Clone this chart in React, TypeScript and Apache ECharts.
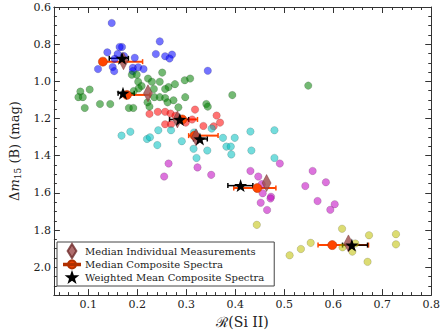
import React, { useEffect, useRef } from 'react';
import * as echarts from 'echarts';

// R(Si II), Δm15(B) pairs per subgroup
const bluePts: number[][] = [
  [0.148, 0.686], [0.169, 0.815], [0.164, 0.815], [0.139, 0.844], [0.160, 0.853],
  [0.246, 0.785], [0.238, 0.853], [0.257, 0.865], [0.271, 0.856], [0.266, 0.877],
  [0.195, 0.873], [0.120, 0.934], [0.150, 0.923], [0.153, 0.945], [0.191, 0.927],
  [0.202, 0.924], [0.213, 0.934], [0.191, 0.945], [0.344, 0.943], [0.154, 0.879],
  [0.173, 0.864],
];
const greenPts: number[][] = [
  [0.084, 1.055], [0.103, 1.044], [0.080, 1.085], [0.089, 1.085], [0.093, 1.143],
  [0.124, 1.122], [0.145, 1.122], [0.183, 1.143], [0.192, 1.143], [0.189, 0.964],
  [0.199, 0.964], [0.251, 0.953], [0.222, 0.985], [0.202, 1.002], [0.209, 1.025],
  [0.230, 1.002], [0.246, 1.002], [0.297, 0.994], [0.308, 0.985], [0.277, 1.015],
  [0.264, 1.031], [0.257, 1.041], [0.234, 1.041], [0.235, 1.085], [0.246, 1.085],
  [0.257, 1.090], [0.262, 1.113], [0.274, 1.102], [0.298, 1.085], [0.341, 1.122],
  [0.344, 1.136], [0.394, 1.074], [0.284, 1.140], [0.221, 1.113], [0.225, 1.136],
  [0.193, 1.052], [0.549, 1.023], [0.203, 1.038],
];
const redPts: number[][] = [
  [0.225, 1.175], [0.242, 1.164], [0.257, 1.164], [0.268, 1.173], [0.318, 1.152],
  [0.362, 1.184], [0.369, 1.222], [0.356, 1.242], [0.335, 1.240], [0.312, 1.205],
  [0.257, 1.231], [0.269, 1.231], [0.278, 1.185], [0.299, 1.222],
];
const cyanPts: number[][] = [
  [0.168, 1.292], [0.186, 1.271], [0.220, 1.310], [0.226, 1.301], [0.241, 1.343],
  [0.243, 1.263], [0.269, 1.263], [0.291, 1.322], [0.315, 1.363], [0.321, 1.412],
  [0.343, 1.372], [0.352, 1.254], [0.375, 1.304], [0.399, 1.304], [0.382, 1.351],
  [0.391, 1.351], [0.392, 1.393], [0.431, 1.270], [0.433, 1.372], [0.480, 1.263],
  [0.480, 1.412], [0.316, 1.275],
];
const magentaPts: number[][] = [
  [0.264, 1.442], [0.255, 1.512], [0.323, 1.463], [0.351, 1.503], [0.431, 1.482],
  [0.447, 1.512], [0.454, 1.553], [0.456, 1.602], [0.473, 1.621], [0.472, 1.630],
  [0.452, 1.653], [0.465, 1.692], [0.491, 1.442], [0.558, 1.482], [0.585, 1.543],
  [0.543, 1.563], [0.568, 1.644], [0.603, 1.661], [0.594, 1.691],
];
const yellowPts: number[][] = [
  [0.444, 1.772], [0.511, 1.936], [0.534, 1.902], [0.554, 1.869], [0.618, 1.793],
  [0.619, 1.893], [0.639, 1.916], [0.645, 1.872], [0.673, 1.828], [0.670, 1.971],
  [0.728, 1.822], [0.728, 1.877],
];

// medians per subgroup (blue, green, red, cyan, magenta, yellow)
const medianIndividualR = [0.172, 0.222, 0.282, 0.320, 0.464, 0.631];
const medianIndividualDm = [0.892, 1.064, 1.205, 1.301, 1.547, 1.872];
const medianCompositeR = [0.130, 0.179, 0.292, 0.317, 0.445, 0.598];
const medianCompositeDm = [0.894, 1.073, 1.205, 1.292, 1.574, 1.881];
const medianCompositeLo = [0.128, 0.168, 0.282, 0.305, 0.397, 0.569];
const medianCompositeHi = [0.211, 0.226, 0.323, 0.365, 0.483, 0.672];
const weightedR = [0.169, 0.171, 0.287, 0.328, 0.411, 0.638];
const weightedDm = [0.876, 1.064, 1.205, 1.310, 1.561, 1.881];
const weightedLo = [0.143, 0.161, 0.266, 0.315, 0.385, 0.619];
const weightedHi = [0.182, 0.194, 0.305, 0.343, 0.436, 0.670];

const xTicks = [0.1, 0.2, 0.3, 0.4, 0.5, 0.6, 0.7, 0.8];
const yTicks = [0.6, 0.8, 1.0, 1.2, 1.4, 1.6, 1.8, 2.0];
const xMin = 0.03, xMax = 0.8, yMin = 0.6, yMax = 2.15;

const LEG_IND = 'Median Individual Measurements';
const LEG_COMP = 'Median Composite Spectra';
const LEG_W = 'Weighted Mean Composite Spectra';

const STAR = 'path://M10,0 L12.35,6.76 L19.51,6.91 L13.8,11.24 L15.88,18.09 L10,14 L4.12,18.09 L6.2,11.24 L0.49,6.91 L7.65,6.76 Z';
const DIAMOND_ICON = 'path://M5,0 L10,8 L5,16 L0,8 Z';
const COMP_ICON = 'path://M0,4.4 L14,4.4 L14,5.6 L0,5.6 Z M3.5,5 A3.5,3.5 0 1,1 10.5,5 A3.5,3.5 0 1,1 3.5,5 Z';
const FONT = 'DejaVu Serif';

function minorValues(lo: number, hi: number, step: number, majors: number[]) {
  const out: number[] = [];
  for (let k = Math.ceil(lo / step - 1e-9); k * step <= hi + 1e-9; k++) {
    const v = +(k * step).toFixed(4);
    if (!majors.some((m) => Math.abs(m - v) < 1e-6)) out.push(v);
  }
  return out;
}

function errSeries(name: string, r: number[], dm: number[], lo: number[], hi: number[], color: string, width: number) {
  return {
    type: 'custom',
    name,
    silent: true,
    data: r.map((x, i) => [x, dm[i], lo[i], hi[i]]),
    encode: { x: [0, 2, 3], y: 1 },
    renderItem: (_p: any, api: any) => {
      const y = api.value(1);
      const a = api.coord([api.value(2), y]);
      const b = api.coord([api.value(3), y]);
      const cap = 2.5;
      return {
        type: 'group',
        children: [
          { type: 'line', shape: { x1: a[0], y1: a[1], x2: b[0], y2: b[1] }, style: { stroke: color, lineWidth: width } },
          { type: 'line', shape: { x1: a[0], y1: a[1] - cap, x2: a[0], y2: a[1] + cap }, style: { stroke: color, lineWidth: 1.5 } },
          { type: 'line', shape: { x1: b[0], y1: b[1] - cap, x2: b[0], y2: b[1] + cap }, style: { stroke: color, lineWidth: 1.5 } },
        ],
      };
    },
  };
}

export default function App() {
  const ref = useRef<HTMLDivElement>(null);
  useEffect(() => {
    if (!ref.current) return;
    const chart = echarts.init(ref.current, null, { renderer: 'svg' });
    const xMinor = minorValues(xMin, xMax, 0.02, xTicks);
    const yMinor = minorValues(yMin, yMax, 0.05, yTicks);
    const axisLine = { show: true, lineStyle: { color: '#333', width: 1 } };
    const xBase = { type: 'value', min: xMin, max: xMax, splitLine: { show: false } };
    const yBase = { type: 'value', min: yMin, max: yMax, inverse: true, splitLine: { show: false } };
    const tickStyle = { color: '#333', width: 1 };
    const groups = [
      { pts: bluePts, color: '#0000ff' },
      { pts: greenPts, color: '#008000' },
      { pts: redPts, color: '#ff0000' },
      { pts: cyanPts, color: '#00bfbf' },
      { pts: magentaPts, color: '#bf00bf' },
      { pts: yellowPts, color: '#bfbf00' },
    ];
    chart.setOption({
      animation: false,
      textStyle: { fontFamily: FONT },
      grid: { left: 40, right: 11, top: 7, bottom: 33 },
      xAxis: [
        {
          ...xBase, position: 'bottom', axisLine,
          axisTick: { inside: true, length: 6, customValues: xTicks, lineStyle: tickStyle },
          axisLabel: { customValues: xTicks, formatter: (v: number) => v.toFixed(1), fontFamily: FONT, fontSize: 11, color: '#222', margin: 4 },
          name: 'ℛ(Si II)', nameLocation: 'middle', nameGap: 16,
          nameTextStyle: { fontFamily: FONT, fontSize: 14, color: '#222' },
        },
        { ...xBase, position: 'bottom', axisLine: { show: false }, axisTick: { inside: true, length: 3, customValues: xMinor, lineStyle: tickStyle }, axisLabel: { show: false } },
        { ...xBase, position: 'top', axisLine, axisTick: { inside: true, length: 6, customValues: xTicks, lineStyle: tickStyle }, axisLabel: { show: false } },
        { ...xBase, position: 'top', axisLine: { show: false }, axisTick: { inside: true, length: 3, customValues: xMinor, lineStyle: tickStyle }, axisLabel: { show: false } },
      ],
      yAxis: [
        {
          ...yBase, position: 'left', axisLine,
          axisTick: { inside: true, length: 6, customValues: yTicks, lineStyle: tickStyle },
          axisLabel: { customValues: yTicks, formatter: (v: number) => v.toFixed(1), fontFamily: FONT, fontSize: 11, color: '#222', margin: 3 },
          name: '{d|Δ}{m|m}{s|15}{t| (B) (mag)}', nameLocation: 'middle', nameGap: 24,
          nameTextStyle: {
            fontFamily: FONT, fontSize: 13, color: '#222',
            rich: {
              d: { fontFamily: FONT, fontSize: 13, color: '#222' },
              m: { fontFamily: FONT, fontSize: 13, fontStyle: 'italic', color: '#222' },
              s: { fontFamily: FONT, fontSize: 9, color: '#222', padding: [7, 0, 0, 0] },
              t: { fontFamily: FONT, fontSize: 13, color: '#222' },
            },
          },
        },
        { ...yBase, position: 'left', axisLine: { show: false }, axisTick: { inside: true, length: 3, customValues: yMinor, lineStyle: tickStyle }, axisLabel: { show: false } },
        { ...yBase, position: 'right', axisLine, axisTick: { inside: true, length: 6, customValues: yTicks, lineStyle: tickStyle }, axisLabel: { show: false } },
        { ...yBase, position: 'right', axisLine: { show: false }, axisTick: { inside: true, length: 3, customValues: yMinor, lineStyle: tickStyle }, axisLabel: { show: false } },
      ],
      legend: {
        left: 57, top: 242, orient: 'vertical', selectedMode: false,
        itemWidth: 16, itemHeight: 14, itemGap: 0.5,
        padding: [1, 10, 2, 6],
        borderColor: '#444', borderWidth: 1, borderRadius: 0, backgroundColor: '#fff',
        textStyle: { fontFamily: FONT, fontSize: 10, color: '#222' },
        data: [
          { name: LEG_IND, icon: DIAMOND_ICON },
          { name: LEG_COMP, icon: COMP_ICON },
          { name: LEG_W, icon: STAR },
        ],
      },
      series: [
        ...groups.map((g, i) => ({
          type: 'scatter', name: 'group' + i, data: g.pts, symbol: 'circle', symbolSize: 7.5,
          itemStyle: { color: g.color, opacity: 0.55, borderColor: 'rgba(0,0,0,0.5)', borderWidth: 0.5 },
          silent: true,
        })),
        errSeries('compositeErr', medianCompositeR, medianCompositeDm, medianCompositeLo, medianCompositeHi, '#ff4500', 2),
        {
          type: 'scatter', name: LEG_COMP, symbol: 'circle', symbolSize: 9,
          data: medianCompositeR.map((x, i) => [x, medianCompositeDm[i]]),
          itemStyle: { color: '#ff4500', opacity: 1, borderColor: '#b03000', borderWidth: 0.5 },
        },
        {
          type: 'scatter', name: LEG_IND, symbol: 'diamond', symbolSize: [9, 17],
          data: medianIndividualR.map((x, i) => [x, medianIndividualDm[i]]),
          itemStyle: { color: '#9c4a4a', opacity: 0.8, borderColor: '#6e2a2a', borderWidth: 0.5 },
        },
        errSeries('weightedErr', weightedR, weightedDm, weightedLo, weightedHi, '#000', 1.5),
        {
          type: 'scatter', name: LEG_W, symbol: STAR, symbolSize: 13,
          data: weightedR.map((x, i) => [x, weightedDm[i]]),
          itemStyle: { color: '#000', opacity: 1 },
        },
      ],
    });
    return () => chart.dispose();
  }, []);
  return <div ref={ref} style={{ width: 443, height: 334, position: 'absolute', left: 0, top: 0 }} />;
}
